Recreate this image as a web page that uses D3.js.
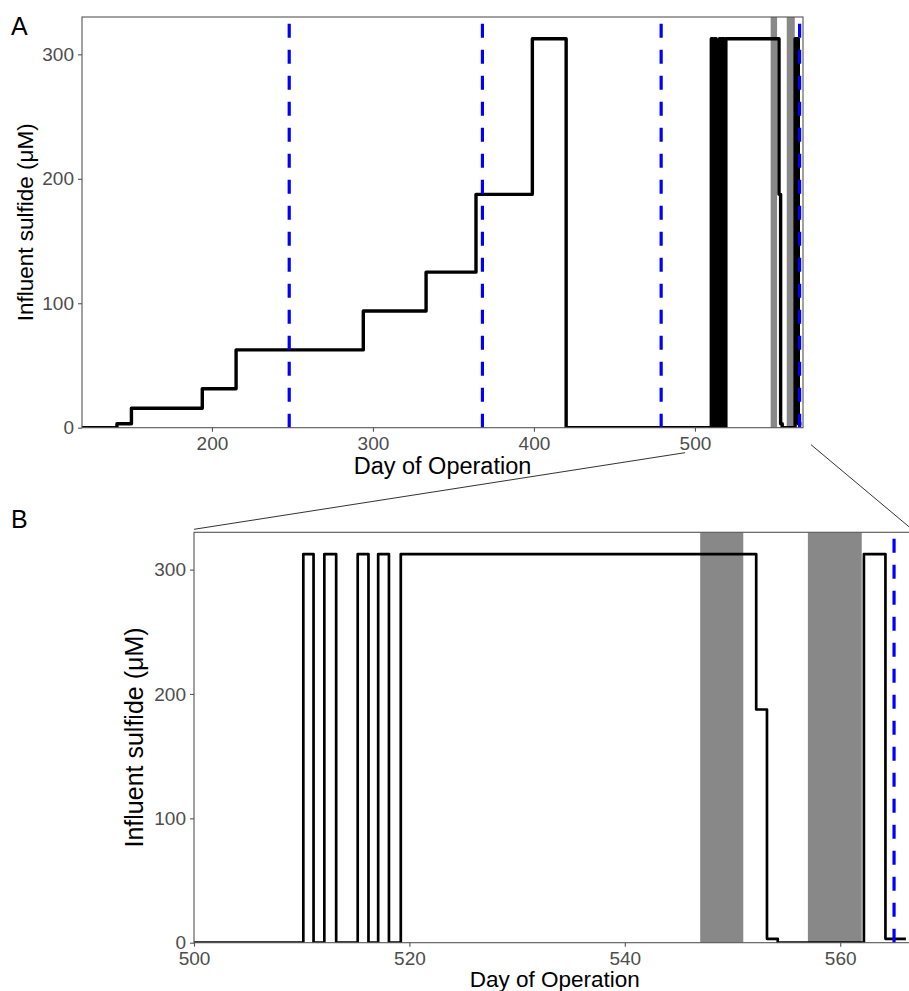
<!DOCTYPE html>
<html>
<head>
<meta charset="utf-8">
<script src="https://cdn.jsdelivr.net/npm/d3@7"></script>
<style>
  html, body { margin: 0; padding: 0; background: #fff; }
  svg { display: block; font-family: "Liberation Sans", Arial, sans-serif; }
</style>
</head>
<body>
<svg id="chart" width="909" height="991"></svg>
<script>
// ---------- data ----------
const stepDays   = [119, 141, 150, 194, 215, 294, 333, 364, 399, 420,
                    510.15, 511.1, 512.1, 513.2, 515.2, 516.2, 517.1, 518.1, 519.2,
                    552.2, 553.2, 554.2, 562.2, 564.2, 566.1];
const stepValues = [0, 3.125, 15.625, 31.25, 62.5, 93.75, 125, 187.5, 312.5, 0,
                    312.5, 0, 312.5, 0, 312.5, 0, 312.5, 0, 312.5,
                    187.5, 3.125, 0, 312.5, 3.125, 3.125];
const dosingDays = [248, 368, 479, 565];
const bandStart  = [547, 557];
const bandEnd    = [551, 562];
const yTicks     = [0, 100, 200, 300];
const xTicksA    = [200, 300, 400, 500];
const xTicksB    = [500, 520, 540, 560];
const yTitle     = "Influent sulfide (\u03BCM)";
const xTitle     = "Day of Operation";

const series = stepDays.map((d, i) => ({ day: d, value: stepValues[i] }));
const bands  = bandStart.map((s, i) => ({ start: s, end: bandEnd[i] }));

const svg = d3.select("#chart");

function panel(cfg) {
  const { id, xDomain, xRange, yRange, xTicks, label, labelPos, yTitleX, yTitleSize, xTitleY, xTitleSize, lineWidth } = cfg;
  const x = d3.scaleLinear().domain(xDomain).range(xRange);
  const y = d3.scaleLinear().domain([0, 330]).range(yRange);
  const g = svg.append("g");

  g.append("clipPath").attr("id", "clip" + id)
    .append("rect")
    .attr("x", xRange[0]).attr("y", yRange[1])
    .attr("width", xRange[1] - xRange[0]).attr("height", yRange[0] - yRange[1]);

  const plot = g.append("g").attr("clip-path", `url(#clip${id})`);

  // step line
  const line = d3.line().x(d => x(d.day)).y(d => y(d.value)).curve(d3.curveStepAfter);
  plot.append("path").datum(series)
    .attr("d", line)
    .attr("fill", "none").attr("stroke", "#000")
    .attr("stroke-width", lineWidth).attr("stroke-linejoin", "round");

  // grey shaded periods
  plot.selectAll("rect.band").data(bands).enter().append("rect")
    .attr("class", "band")
    .attr("x", d => x(d.start)).attr("width", d => x(d.end) - x(d.start))
    .attr("y", yRange[1]).attr("height", yRange[0] - yRange[1])
    .attr("fill", "#000").attr("fill-opacity", 0.465);

  // blue dashed vertical lines
  plot.selectAll("line.dose").data(dosingDays).enter().append("line")
    .attr("class", "dose")
    .attr("x1", d => x(d)).attr("x2", d => x(d))
    .attr("y1", yRange[0]).attr("y2", yRange[1])
    .attr("stroke", "#0000FF").attr("stroke-width", 3.2)
    .attr("stroke-dasharray", "14,12");

  // panel border
  g.append("rect")
    .attr("x", xRange[0]).attr("y", yRange[1])
    .attr("width", xRange[1] - xRange[0]).attr("height", yRange[0] - yRange[1])
    .attr("fill", "none").attr("stroke", "#555").attr("stroke-width", 1.1);

  // axes
  const xa = g.append("g").attr("transform", `translate(0,${yRange[0]})`)
    .call(d3.axisBottom(x).tickValues(xTicks).tickSize(4).tickPadding(4).tickFormat(d3.format("d")));
  const ya = g.append("g").attr("transform", `translate(${xRange[0]},0)`)
    .call(d3.axisLeft(y).tickValues(yTicks).tickSize(4).tickPadding(4).tickFormat(d3.format("d")));
  [xa, ya].forEach(a => {
    a.select(".domain").remove();
    a.selectAll(".tick line").attr("stroke", "#555").attr("stroke-width", 1.1);
    a.selectAll(".tick text").attr("fill", "#4D4D4D")
      .style("font-family", "'Liberation Sans', Arial, sans-serif").style("font-size", "19px");
  });
  xa.selectAll(".tick text").attr("dy", "0.75em");

  // titles
  g.append("text")
    .attr("x", (xRange[0] + xRange[1]) / 2).attr("y", xTitleY)
    .attr("text-anchor", "middle").attr("fill", "#000")
    .style("font-size", xTitleSize + "px").text(xTitle);
  g.append("text")
    .attr("transform", `translate(${yTitleX},${(yRange[0] + yRange[1]) / 2}) rotate(-90)`)
    .attr("text-anchor", "middle").attr("fill", "#000")
    .style("font-size", yTitleSize + "px").text(yTitle);

  // panel letter
  g.append("text").attr("x", labelPos[0]).attr("y", labelPos[1])
    .attr("fill", "#000").style("font-size", "25px").text(label);

  return { x, y };
}

const A = panel({
  id: "A", xDomain: [119.3, 567.1], xRange: [82, 803], yRange: [427.7, 17],
  xTicks: xTicksA, label: "A", labelPos: [11, 35],
  yTitleX: 33, yTitleSize: 22.5, xTitleY: 474, xTitleSize: 23.5, lineWidth: 3.4
});
const B = panel({
  id: "B", xDomain: [500, 567], xRange: [194, 915.6], yRange: [942.7, 532.3],
  xTicks: xTicksB, label: "B", labelPos: [11, 528],
  yTitleX: 143, yTitleSize: 25, xTitleY: 987, xTitleSize: 22.5, lineWidth: 2.7
});

// zoom connector lines from panel A to panel B
const conn = [
  { x1: A.x(500) - 10, y1: A.y(0) + 25, x2: B.x(500), y2: B.y(330) - 3 },
  { x1: A.x(567.1) + 8, y1: A.y(0) + 17, x2: B.x(567), y2: B.y(330) }
];
svg.selectAll("line.conn").data(conn).enter().append("line")
  .attr("class", "conn")
  .attr("x1", d => d.x1).attr("y1", d => d.y1).attr("x2", d => d.x2).attr("y2", d => d.y2)
  .attr("stroke", "#333").attr("stroke-width", 1);
</script>
</body>
</html>
